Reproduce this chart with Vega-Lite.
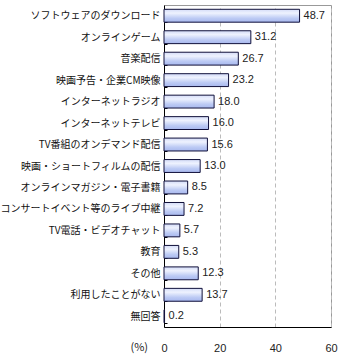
{
  "$schema": "https://vega.github.io/schema/vega-lite/v6.json",
  "autosize": "none",
  "padding": {"left": 164, "top": 5, "right": 9, "bottom": 33},
  "width": 167,
  "height": 322,
  "background": "white",
  "config": {
    "view": {"stroke": "#999999", "strokeWidth": 1},
    "font": "Liberation Sans"
  },
  "data": {
    "values": [
      {"item": "ソフトウェアのダウンロード", "value": 48.7},
      {"item": "オンラインゲーム", "value": 31.2},
      {"item": "音楽配信", "value": 26.7},
      {"item": "映画予告・企業CM映像", "value": 23.2},
      {"item": "インターネットラジオ", "value": 18.0},
      {"item": "インターネットテレビ", "value": 16.0},
      {"item": "TV番組のオンデマンド配信", "value": 15.6},
      {"item": "映画・ショートフィルムの配信", "value": 13.0},
      {"item": "オンラインマガジン・電子書籍", "value": 8.5},
      {"item": "コンサートイベント等のライブ中継", "value": 7.2},
      {"item": "TV電話・ビデオチャット", "value": 5.7},
      {"item": "教育", "value": 5.3},
      {"item": "その他", "value": 12.3},
      {"item": "利用したことがない", "value": 13.7},
      {"item": "無回答", "value": 0.2}
    ]
  },
  "encoding": {
    "y": {
      "field": "item",
      "type": "nominal",
      "sort": null,
      "scale": {"paddingInner": 0.4, "paddingOuter": 0.2},
      "axis": {
        "title": null,
        "domainColor": "#000000",
        "tickColor": "#000000",
        "tickBand": "extent",
        "tickSize": -3,
        "labelPadding": 7,
        "labelFont": "Noto Sans CJK JP",
        "labelFontSize": 10,
        "labelColor": "#111111",
        "labelLimit": 200
      }
    },
    "x": {
      "field": "value",
      "type": "quantitative",
      "scale": {"domain": [0, 60], "nice": false},
      "axis": {
        "values": [0, 20, 40, 60],
        "title": "(%)",
        "titleX": -34,
        "titleY": 14,
        "titleAlign": "left",
        "titleBaseline": "top",
        "titleFontWeight": "normal",
        "titleFont": "Noto Sans CJK JP",
        "titleFontSize": 11,
        "titleColor": "#222222",
        "domainColor": "#000000",
        "ticks": false,
        "labelPadding": 15,
        "labelFontSize": 11,
        "labelColor": "#222222",
        "labelFlush": false,
        "grid": true,
        "gridColor": "#bbbbbb",
        "gridDash": [4, 3]
      }
    }
  },
  "layer": [
    {
      "mark": {
        "type": "bar",
        "stroke": "#10103a",
        "strokeWidth": 1,
        "color": {
          "gradient": "linear",
          "x1": 0, "y1": 0, "x2": 0, "y2": 1,
          "stops": [
            {"offset": 0, "color": "#d4dcf8"},
            {"offset": 0.3, "color": "#eef2fe"},
            {"offset": 0.7, "color": "#bccaf4"},
            {"offset": 1, "color": "#a8b8ee"}
          ]
        }
      }
    },
    {
      "mark": {"type": "text", "align": "left", "dx": 4, "fontSize": 11, "color": "#222222", "font": "Liberation Sans"},
      "encoding": {
        "text": {"field": "value", "type": "quantitative", "format": ".1f"}
      }
    }
  ]
}
